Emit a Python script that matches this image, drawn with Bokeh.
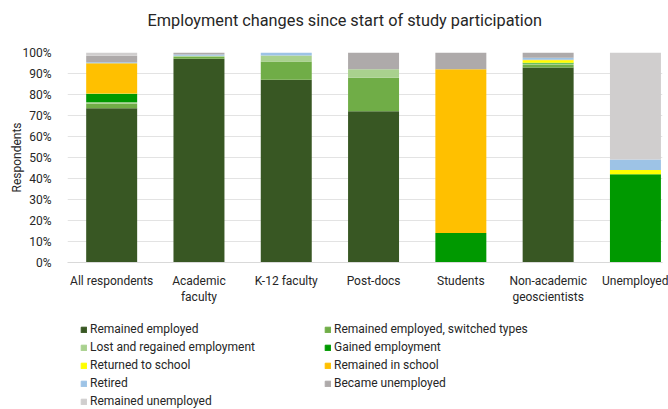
from bokeh.plotting import figure
from bokeh.layouts import column
from bokeh.models import Range1d, NumeralTickFormatter, FixedTicker, Legend, LegendItem, Title
from bokeh.embed import file_html
from bokeh.resources import INLINE

categories = ["All respondents", "Academic\nfaculty", "K-12 faculty", "Post-docs",
              "Students", "Non-academic\ngeoscientists", "Unemployed"]

series_names = ["Remained employed", "Remained employed, switched types",
                "Lost and regained employment", "Gained employment",
                "Returned to school", "Remained in school", "Retired",
                "Became unemployed", "Remained unemployed"]

remained_employed   = [73.5, 97.0, 87.0, 72.0, 0.0, 92.8, 0.0]
switched_types      = [2.2, 1.0, 8.7, 16.0, 0.0, 1.2, 0.0]
lost_regained       = [0.6, 0.5, 2.9, 4.0, 0.0, 0.8, 0.0]
gained_employment   = [4.0, 0.0, 0.0, 0.0, 14.0, 0.3, 42.0]
returned_to_school  = [0.2, 0.0, 0.0, 0.0, 0.0, 1.2, 2.0]
remained_in_school  = [14.4, 0.0, 0.0, 0.0, 78.0, 0.2, 0.0]
retired             = [0.4, 0.5, 1.4, 0.0, 0.0, 1.0, 5.0]
became_unemployed   = [3.2, 1.0, 0.0, 8.0, 8.0, 2.5, 0.0]
remained_unemployed = [1.5, 0.0, 0.0, 0.0, 0.0, 0.0, 51.0]

colors = ["#385723", "#70AD47", "#A9D18E", "#009900", "#FFFF00",
          "#FFC000", "#9DC3E6", "#AEAAAA", "#D0CECE"]

all_series = [remained_employed, switched_types, lost_regained, gained_employment,
              returned_to_school, remained_in_school, retired, became_unemployed,
              remained_unemployed]

x = list(range(len(categories)))
data = {"x": x}
keys = []
for i, s in enumerate(all_series):
    k = f"s{i}"
    keys.append(k)
    data[k] = [v / 100.0 for v in s]

FONT = "Roboto"
TXT = "#262626"

p = figure(width=668, height=310, x_range=Range1d(-0.506, 6.31), y_range=Range1d(0, 1),
           output_backend="svg", toolbar_location=None, title=None)

# spacer between the frame and the title (added first, so it sits next to the frame)
p.add_layout(Title(text=" ", text_font_size="1px", standoff=20), "above")
main_title = Title(text="Employment changes since start of study participation",
                   align="left", offset=80, vertical_align="bottom", standoff=0,
                   text_font=FONT, text_font_size="16.3px", text_font_style="normal",
                   text_color=TXT)
p.add_layout(main_title, "above")

p.min_border_top = 52
p.min_border_left = 67
p.min_border_right = 6
p.min_border_bottom = 48
p.outline_line_color = None

renderers = p.vbar_stack(keys, x="x", width=0.584, color=colors, source=data, line_width=0)

p.yaxis.ticker = FixedTicker(ticks=[i / 10 for i in range(11)])
p.yaxis.formatter = NumeralTickFormatter(format="0%")
p.yaxis.axis_label = "Respondents"
p.yaxis.axis_label_text_font = FONT
p.yaxis.axis_label_text_font_size = "12px"
p.yaxis.axis_label_text_font_style = "normal"
p.yaxis.axis_label_text_color = TXT
p.yaxis.major_label_text_font = FONT
p.yaxis.major_label_text_font_size = "12px"
p.yaxis.major_label_text_color = TXT
p.yaxis.axis_line_color = None
p.yaxis.major_tick_line_color = None
p.yaxis.minor_tick_line_color = None
p.yaxis.axis_label_standoff = -5
p.yaxis.major_label_standoff = 10

p.xaxis.ticker = FixedTicker(ticks=x)
p.xaxis.major_label_overrides = {i: c for i, c in enumerate(categories)}
p.xaxis.major_label_text_font = FONT
p.xaxis.major_label_text_font_size = "12px"
p.xaxis.major_label_text_color = TXT
p.xaxis.axis_line_color = "#D9D9D9"
p.xaxis.major_tick_line_color = None
p.xaxis.minor_tick_line_color = None
p.xaxis.major_label_standoff = 5

p.xgrid.grid_line_color = None
p.ygrid.grid_line_color = "#E3E3E3"

# legend area: hidden copies of the series supply the legend swatches
q = figure(width=668, height=99, x_range=Range1d(-0.506, 6.31), y_range=Range1d(0, 1),
           output_backend="svg", toolbar_location=None, min_border=0)
q.axis.visible = False
q.grid.visible = False
q.outline_line_color = None

swatches = []
for k, c in zip(keys, colors):
    r = q.vbar(x="x", top=k, width=0.584, color=c, source=data)
    r.visible = False
    swatches.append(r)

col1 = [0, 2, 4, 6, 8]
col2 = [1, 3, 5, 7]


def make_legend(idx, loc):
    items = [LegendItem(label=series_names[i], renderers=[swatches[i]]) for i in idx]
    return Legend(items=items, location=loc, orientation="vertical",
                  glyph_width=7, glyph_height=7, label_standoff=3,
                  label_text_font=FONT, label_text_font_size="12px",
                  label_text_color=TXT, label_height=14,
                  spacing=4, padding=0, margin=0, border_line_color=None,
                  background_fill_alpha=0, inactive_fill_alpha=0)


q.add_layout(make_legend(col1, (13, 1)), "center")
q.add_layout(make_legend(col2, (257, 19)), "center")

layout = column(p, q, spacing=0)
open("out.html", "w").write(file_html(layout, INLINE))
